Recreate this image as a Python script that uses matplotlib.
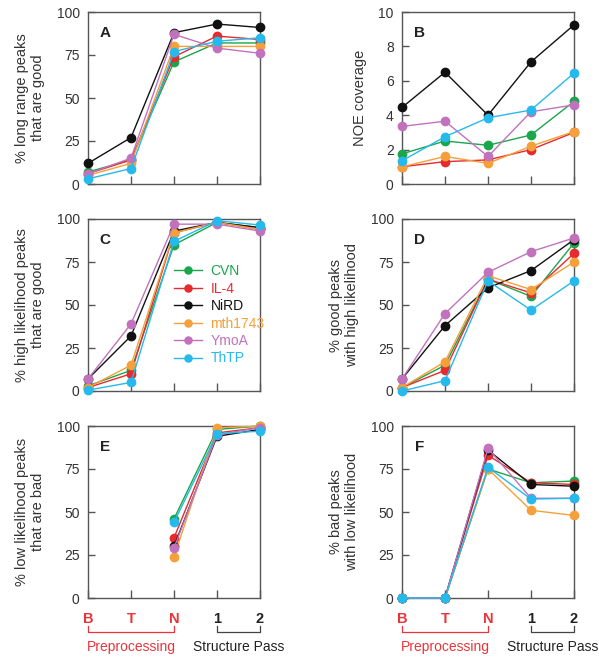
import matplotlib
matplotlib.use("Agg")
import matplotlib.pyplot as plt
import numpy as np

stages = ["B", "T", "N", "1", "2"]
proteins = ["CVN", "IL-4", "NiRD", "mth1743", "YmoA", "ThTP"]
colors = ["#1aa64a", "#e62a2e", "#111111", "#f5a03a", "#c272bd", "#26b9ec"]

# Panel A: % long range peaks that are good
A_vals = {
    "CVN":     [7, 14, 71, 82, 82],
    "IL-4":    [6, 14, 74, 86, 84],
    "NiRD":    [12, 27, 88, 93, 91],
    "mth1743": [5, 12, 80, 80, 80],
    "YmoA":    [6, 15, 87, 79, 76],
    "ThTP":    [3, 9, 77, 83, 85],
}
# Panel B: NOE coverage
B_vals = {
    "CVN":     [1.75, 2.5, 2.25, 2.85, 4.8],
    "IL-4":    [1.0, 1.3, 1.4, 2.0, 3.0],
    "NiRD":    [4.45, 6.5, 4.0, 7.1, 9.25],
    "mth1743": [1.0, 1.6, 1.2, 2.2, 3.05],
    "YmoA":    [3.35, 3.65, 1.6, 4.2, 4.6],
    "ThTP":    [1.35, 2.75, 3.85, 4.3, 6.45],
}
# Panel C: % high likelihood peaks that are good
C_vals = {
    "CVN":     [3, 12, 85, 98, 95],
    "IL-4":    [2, 10, 92, 98, 94],
    "NiRD":    [7, 32, 93, 98, 95],
    "mth1743": [2, 15, 92, 98, 94],
    "YmoA":    [7, 39, 97, 97, 93],
    "ThTP":    [0.5, 5, 87, 99, 96.5],
}
# Panel D: % good peaks with high likelihood
D_vals = {
    "CVN":     [2, 15, 65, 55, 86],
    "IL-4":    [2, 12, 65, 57, 80],
    "NiRD":    [7, 38, 60, 70, 88],
    "mth1743": [2, 17, 67, 59, 75],
    "YmoA":    [7, 45, 69, 81, 89],
    "ThTP":    [0, 6, 64, 47, 64],
}
# Panel E: % low likelihood peaks that are bad (only N, 1, 2)
E_vals = {
    "CVN":     [np.nan, np.nan, 46, 98, 100],
    "IL-4":    [np.nan, np.nan, 35, 96, 99],
    "NiRD":    [np.nan, np.nan, 30, 94, 98],
    "mth1743": [np.nan, np.nan, 24, 99, 100],
    "YmoA":    [np.nan, np.nan, 29, 95, 99],
    "ThTP":    [np.nan, np.nan, 44, 95.5, 97],
}
# Panel F: % bad peaks with low likelihood
F_vals = {
    "CVN":     [0, 0, 75, 67, 68],
    "IL-4":    [0, 0, 83, 67, 66],
    "NiRD":    [0, 0, 86, 66, 65],
    "mth1743": [0, 0, 75, 51, 48],
    "YmoA":    [0, 0, 87, 58, 58],
    "ThTP":    [0, 0, 76, 57.5, 58],
}

panels = [
    ("A", A_vals, "% long range peaks\nthat are good", (0, 100), [0, 25, 50, 75, 100]),
    ("B", B_vals, "NOE coverage", (0, 10), [0, 2, 4, 6, 8, 10]),
    ("C", C_vals, "% high likelihood peaks\nthat are good", (0, 100), [0, 25, 50, 75, 100]),
    ("D", D_vals, "% good peaks\nwith high likelihood", (0, 100), [0, 25, 50, 75, 100]),
    ("E", E_vals, "% low likelihood peaks\nthat are bad", (0, 100), [0, 25, 50, 75, 100]),
    ("F", F_vals, "% bad peaks\nwith low likelihood", (0, 100), [0, 25, 50, 75, 100]),
]

plt.rcParams["font.family"] = ["Liberation Sans", "DejaVu Sans"]
fig = plt.figure(figsize=(5.99, 6.6), dpi=100)

W, H = 599, 660
lefts = [88, 402]
tops = [12, 219, 426]
aw, ah = 172, 172
spine_col = "#555555"
txt_col = "#333333"
red_txt = "#e8343a"
x = np.arange(len(stages))

axes = []
for i, (letter, vals, ylabel, ylim, yticks) in enumerate(panels):
    r, c = divmod(i, 2)
    ax = fig.add_axes([lefts[c] / W, (H - tops[r] - ah) / H, aw / W, ah / H])
    axes.append(ax)
    for p, col in zip(proteins, colors):
        ax.plot(x, vals[p], "-o", color=col, lw=1.0, ms=6, clip_on=False,
                label=p, zorder=3)
    ax.set_xlim(0, 4)
    ax.set_ylim(*ylim)
    ax.set_yticks(yticks)
    ax.set_xticks(x)
    ax.tick_params(direction="in", length=5, width=1, color=spine_col,
                   labelsize=10, labelcolor=txt_col, pad=6)
    ax.tick_params(axis="x", length=6)
    for s in ax.spines.values():
        s.set_color(spine_col)
        s.set_linewidth(1.0)
    ax.set_ylabel(ylabel, fontsize=10.5, color=txt_col, labelpad=8)
    ax.text(0.10, 0.88, letter, transform=ax.transAxes, fontsize=11,
            fontweight="bold", color="#222222", va="center", ha="center")
    if r < 2:
        ax.set_xticklabels([])
    else:
        ax.set_xticklabels(stages, fontweight="bold", fontsize=10.5)
        for k, lab in enumerate(ax.get_xticklabels()):
            lab.set_color(red_txt if k < 3 else "#222222")
        ax.tick_params(axis="x", pad=10)
        # brackets
        trans = ax.get_xaxis_transform()
        yb = -0.195
        yt = -0.165
        ax.plot([0, 0, 2, 2], [yt, yb, yb, yt], transform=trans, color=red_txt,
                lw=0.9, clip_on=False)
        ax.plot([3, 3, 4, 4], [yt, yb, yb, yt], transform=trans, color="#444444",
                lw=0.9, clip_on=False)
        ax.text(1, -0.285, "Preprocessing", transform=trans, color=red_txt,
                fontsize=10, ha="center", va="center")
        ax.text(3.5, -0.285, "Structure Pass", transform=trans, color="#222222",
                fontsize=10, ha="center", va="center")

leg = axes[2].legend(loc="upper left", bbox_to_anchor=(0.47, 0.77), frameon=False,
                     fontsize=10, handlelength=2.0, handletextpad=0.6,
                     labelspacing=0.25, markerscale=0.85, borderaxespad=0)
for t, col in zip(leg.get_texts(), colors):
    t.set_color(col)

fig.savefig("out.png", dpi=100)
